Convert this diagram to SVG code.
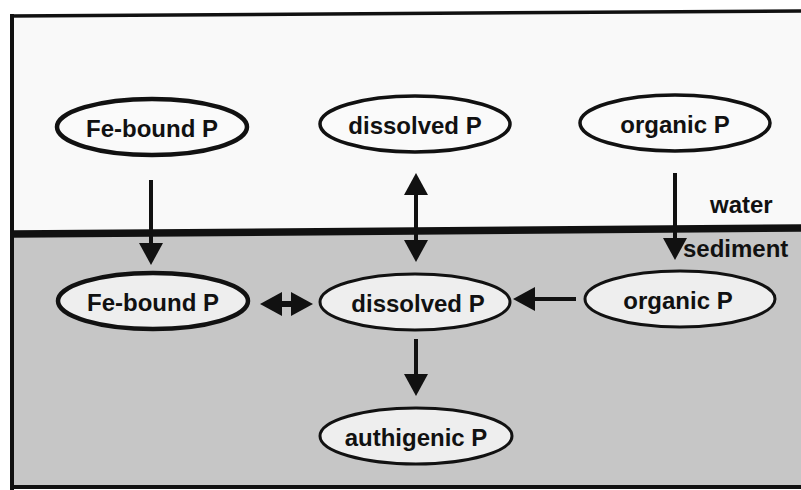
<svg xmlns="http://www.w3.org/2000/svg" width="801" height="490" viewBox="0 0 801 490">
<style>
.lbl{font-family:"Liberation Sans",Arial,sans-serif;font-weight:bold;font-size:24px;fill:#111;text-anchor:middle}
.zone{font-family:"Liberation Sans",Arial,sans-serif;font-weight:bold;font-size:24px;fill:#111}
.top{fill:#fafafa;stroke:#111;stroke-width:3.5}
.bot{fill:#eeeeee;stroke:#111;stroke-width:3}
.fe{stroke-width:4.5}
.con{stroke:#111;stroke-width:4;fill:none}
</style>
<defs>
<marker id="ah" markerUnits="userSpaceOnUse" markerWidth="24" markerHeight="26" viewBox="0 -13 24 26" refX="0" refY="0" orient="auto-start-reverse">
<path d="M0,-12 L22,0 L0,12 z" fill="#111"/>
</marker>
</defs>
<rect x="0" y="0" width="801" height="490" fill="#ffffff"/>
<g id="frame">
<polygon points="12,16 801,11 801,231 12,236" fill="#f9f9f9"/>
<polygon points="12,236 801,230 801,487 12,487" fill="#c6c6c6"/>
<line x1="10" y1="16" x2="801" y2="11" stroke="#111" stroke-width="3.5"/>
<line x1="12" y1="14" x2="12" y2="490" stroke="#111" stroke-width="4"/>
<line x1="10" y1="487" x2="801" y2="487" stroke="#111" stroke-width="4"/>
<line x1="12" y1="234" x2="801" y2="228" stroke="#111" stroke-width="7.5"/>
<text class="zone" x="710" y="213">water</text>
<text class="zone" x="683" y="257">sediment</text>
</g>
<g id="connectors">
<line class="con" x1="151" y1="180" x2="151" y2="243" marker-end="url(#ah)"/>
<line class="con" x1="416" y1="195" x2="416" y2="240" marker-start="url(#ah)" marker-end="url(#ah)"/>
<line class="con" x1="675" y1="173" x2="675" y2="238" marker-end="url(#ah)"/>
<line class="con" x1="576" y1="299" x2="535" y2="299" marker-end="url(#ah)"/>
<line class="con" x1="282" y1="304" x2="291" y2="304" style="stroke-width:6" marker-start="url(#ah)" marker-end="url(#ah)"/>
<line class="con" x1="416" y1="339" x2="416" y2="374" marker-end="url(#ah)"/>
</g>
<g id="fe-water">
<ellipse class="top fe" cx="152" cy="127" rx="95" ry="28"/>
<text class="lbl" x="152" y="137">Fe-bound P</text>
</g>
<g id="dissolved-water">
<ellipse class="top" cx="415" cy="124" rx="95" ry="28"/>
<text class="lbl" x="415" y="134">dissolved P</text>
</g>
<g id="organic-water">
<ellipse class="top" cx="675" cy="123" rx="95" ry="28"/>
<text class="lbl" x="675" y="133">organic P</text>
</g>
<g id="fe-sediment">
<ellipse class="bot fe" cx="153" cy="301" rx="95" ry="28"/>
<text class="lbl" x="153" y="311">Fe-bound P</text>
</g>
<g id="dissolved-sediment">
<ellipse class="bot" cx="415" cy="302" rx="95" ry="28"/>
<text class="lbl" x="418" y="312">dissolved P</text>
</g>
<g id="organic-sediment">
<ellipse class="bot" cx="680" cy="299" rx="95" ry="28"/>
<text class="lbl" x="678" y="309">organic P</text>
</g>
<g id="authigenic-sediment">
<ellipse class="bot" cx="416" cy="436" rx="96" ry="28"/>
<text class="lbl" x="416" y="446">authigenic P</text>
</g>
</svg>
